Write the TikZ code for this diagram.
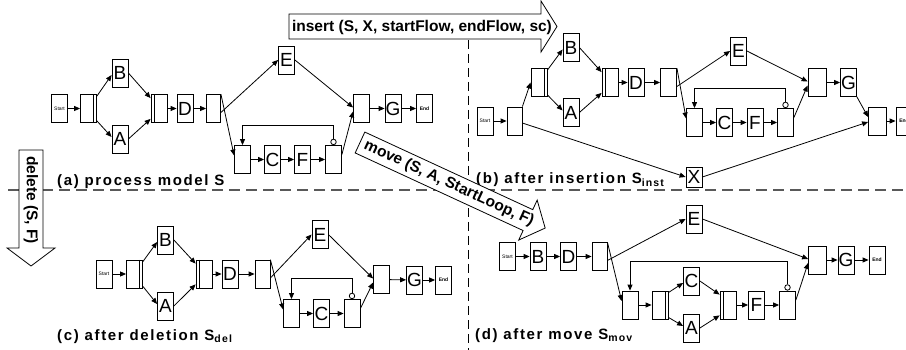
\documentclass[tikz,border=0pt]{standalone}
\usepackage{fontspec}
\setmainfont{Liberation Sans}
\newfontfamily\lblfont[LetterSpace=11]{Liberation Sans}
\usetikzlibrary{arrows.meta,calc}
\tikzset{
 box/.style={draw, line width=0.8pt, inner sep=0pt, minimum width=16pt, minimum height=28pt, fill=white},
 task/.style={box, font=\fontsize{19}{19}\selectfont},
 startnode/.style={box, font=\fontsize{5}{5}\selectfont},
 endnode/.style={box, font=\fontsize{5}{5}\selectfont\bfseries},
 andsplit/.style={box, path picture={\draw[line width=0.8pt] ([xshift=-3pt]path picture bounding box.north east) -- ([xshift=-3pt]path picture bounding box.south east);}},
 andjoin/.style={box, path picture={\draw[line width=0.8pt] ([xshift=3pt]path picture bounding box.north west) -- ([xshift=3pt]path picture bounding box.south west);}},
 gw/.style={box},
 loopc/.style={circle, draw, line width=0.8pt, minimum size=5.5pt, inner sep=0pt, fill=white, anchor=south},
 flow/.style={line width=0.8pt, -{Triangle[length=6pt,width=5pt]}},
 bigarrow/.style={draw, line width=0.8pt, fill=white},
 lbl/.style={font=\lblfont\fontsize{15}{15}\selectfont\bfseries, inner sep=0pt},
 optext/.style={font=\fontsize{15.5}{15.5}\selectfont\bfseries, inner sep=0pt},
 sepline/.style={dashed, dash pattern=on 11pt off 6pt, line width=1.6pt, draw=black!65},
 vsepline/.style={dash pattern=on 9pt off 5pt, line width=1pt, draw=black},
}
\begin{document}
\begin{tikzpicture}[x=1pt, y=-1pt]
\useasboundingbox (0,0) rectangle (906,350);
\clip (0,0) rectangle (906,350);
% separators
\draw[sepline] (8,190) -- (906,190);
\draw[vsepline] (468,40) -- (468,350);

% ---------- (a) ----------
\node[startnode] (aS) at (59.5,108.5) {Start};
\node[andsplit] (aAs) at (88.5,108.5) {};
\node[task] (aB) at (120,73) {B};
\node[task] (aA) at (120,139) {A};
\node[andjoin] (aAj) at (159,108.5) {};
\node[task] (aD) at (185,108.5) {D};
\node[gw,minimum width=14pt] (aXs) at (213.5,108.5) {};
\node[task] (aE) at (286.5,60) {E};
\node[gw] (aLs) at (242.5,159.5) {};
\node[task] (aC) at (272.5,159.5) {C};
\node[task] (aF) at (302.5,159.5) {F};
\node[gw] (aLe) at (333.5,159.5) {};
\node[loopc] (aLc) at (aLe.north) {};
\node[gw] (aXj) at (361.5,108.5) {};
\node[task] (aG) at (393,108.5) {G};
\node[endnode] (aEnd) at (424.5,108.5) {End};
\coordinate (aLy) at (0,125);
\draw[flow] (aS) -- (aAs);
\draw[flow] ([yshift=-2pt]aAs.north east) -- ([yshift=-2pt]aB.west);
\draw[flow] ([yshift=2pt]aAs.south east) -- ([yshift=2pt]aA.west);
\draw[flow] (aB.east) -- ([yshift=-4pt]aAj.north west);
\draw[flow] (aA.east) -- ([yshift=4pt]aAj.south west);
\draw[flow] (aAj) -- (aD);
\draw[flow] (aD) -- (aXs);
\draw[flow] ([yshift=-4pt]aXs.east) -- (aE.west);
\draw[flow] (aXs.north east) -- ([yshift=4pt]aLs.west);
\draw[flow] (aLs) -- (aC);
\draw[flow] (aC) -- (aF);
\draw[flow] (aF) -- (aLe);
\draw[flow] (aLc.north) |- (aLs.north |- aLy) -- (aLs.north);
\draw[flow] (aE.east) -- ([yshift=1pt]aXj.west);
\draw[flow] ([yshift=5pt]aLe.east) -- ([yshift=-3pt]aXj.west);
\draw[flow] (aXj) -- (aG);
\draw[flow] (aG) -- (aEnd);
\node[lbl, anchor=base west] (la) at (57,186) {(a) process model S};

% ---------- (b) ----------
\node[startnode] (bS) at (485,121) {Start};
\node[gw,minimum width=15pt] (bXs1) at (514.5,121) {};
\node[andsplit] (bAs) at (539,82.5) {};
\node[task] (bB) at (571,47.5) {B};
\node[task] (bA) at (571,112.5) {A};
\node[andjoin] (bAj) at (610,82.5) {};
\node[task] (bD) at (636,82.5) {D};
\node[gw] (bXs2) at (668.5,82.5) {};
\node[task] (bE) at (738.5,51) {E};
\node[gw] (bLs) at (694.5,122.5) {};
\node[task] (bC) at (724.5,122.5) {C};
\node[task] (bF) at (755,122.5) {F};
\node[gw] (bLe) at (785.5,122.5) {};
\node[loopc] (bLc) at (bLe.north) {};
\node[gw,minimum width=18pt] (bXj1) at (817,82.5) {};
\node[task] (bG) at (848.5,82.5) {G};
\node[gw,minimum width=18pt] (bXj2) at (877.5,121) {};
\node[endnode] (bEnd) at (904,121) {End};
\node[task,minimum height=20pt] (bX) at (694,177) {X};
\coordinate (bLy) at (0,88);
\draw[flow] (bS) -- (bXs1);
\draw[flow] (bXs1.north east) -- (bAs.west);
\draw[flow] ([yshift=-2pt]bXs1.east) -- (bX.west);
\draw[flow] ([yshift=-2pt]bAs.north east) -- ([yshift=-2pt]bB.west);
\draw[flow] ([yshift=2pt]bAs.south east) -- ([yshift=2pt]bA.west);
\draw[flow] (bB.east) -- ([yshift=-4pt]bAj.north west);
\draw[flow] (bA.east) -- ([yshift=4pt]bAj.south west);
\draw[flow] (bAj) -- (bD);
\draw[flow] (bD) -- (bXs2);
\draw[flow] ([yshift=-4pt]bXs2.east) -- (bE.west);
\draw[flow] (bXs2.north east) -- ([yshift=4pt]bLs.west);
\draw[flow] (bLs) -- (bC);
\draw[flow] (bC) -- (bF);
\draw[flow] (bF) -- (bLe);
\draw[flow] (bLc.north) |- (bLs.north |- bLy) -- (bLs.north);
\draw[flow] (bE.east) -- ([yshift=1pt]bXj1.west);
\draw[flow] ([yshift=5pt]bLe.east) -- ([yshift=-3pt]bXj1.west);
\draw[flow] (bXj1) -- (bG);
\draw[flow] (bG.south east) -- ([yshift=4pt]bXj2.west);
\draw[flow] (bX.east) -- ([yshift=-1pt]bXj2.west);
\draw[flow] (bXj2) -- (bEnd);
\node[lbl, anchor=base west] (lb) at (476,184) {(b) after insertion S\textsubscript{inst}};

% ---------- (c) ----------
\node[startnode] (cS) at (104,274) {Start};
\node[andsplit] (cAs) at (134.5,274) {};
\node[task] (cB) at (165.5,240) {B};
\node[task] (cA) at (165.5,306) {A};
\node[andjoin] (cAj) at (204,274) {};
\node[task] (cD) at (230,274) {D};
\node[gw,minimum width=15pt] (cXs) at (262.5,274) {};
\node[task] (cE) at (320,234.5) {E};
\node[gw] (cLs) at (291.5,313.5) {};
\node[task] (cC) at (321.5,313.5) {C};
\node[gw] (cLe) at (352,313.5) {};
\node[loopc] (cLc) at (cLe.north) {};
\node[gw] (cXj) at (381.5,279.5) {};
\node[task] (cG) at (414.5,280) {G};
\node[endnode] (cEnd) at (443.5,280) {End};
\coordinate (cLy) at (0,278);
\draw[flow] (cS) -- (cAs);
\draw[flow] ([yshift=-2pt]cAs.north east) -- ([yshift=-2pt]cB.west);
\draw[flow] ([yshift=2pt]cAs.south east) -- ([yshift=2pt]cA.west);
\draw[flow] (cB.east) -- ([yshift=-4pt]cAj.north west);
\draw[flow] (cA.east) -- ([yshift=4pt]cAj.south west);
\draw[flow] (cAj) -- (cD);
\draw[flow] (cD) -- (cXs);
\draw[flow] ([yshift=-4pt]cXs.east) -- (cE.west);
\draw[flow] (cXs.north east) -- ([yshift=4pt]cLs.west);
\draw[flow] (cLs) -- (cC);
\draw[flow] (cC) -- (cLe);
\draw[flow] (cLc.north) |- (cLs.north |- cLy) -- (cLs.north);
\draw[flow] (cE.east) -- ([yshift=1pt]cXj.west);
\draw[flow] ([yshift=5pt]cLe.east) -- ([yshift=-3pt]cXj.west);
\draw[flow] (cXj) -- (cG);
\draw[flow] (cG) -- (cEnd);
\node[lbl, anchor=base west] (lc) at (57,340) {(c) after deletion S\textsubscript{del}};

% ---------- (d) ----------
\node[startnode] (dS) at (507.5,256.5) {Start};
\node[task] (dB) at (538,256.5) {B};
\node[task] (dD) at (568.5,256.5) {D};
\node[gw,minimum width=15pt] (dXs) at (599.5,256.5) {};
\node[task] (dE) at (694,219) {E};
\node[gw] (dLs) at (630,305) {};
\node[andsplit] (dAs) at (660,305) {};
\node[task] (dC) at (691.5,281) {C};
\node[task] (dA) at (691.5,328) {A};
\node[andjoin] (dAj) at (728,305) {};
\node[task] (dF) at (756.5,305) {F};
\node[gw] (dLe) at (787.5,305) {};
\node[loopc] (dLc) at (dLe.north) {};
\node[gw,minimum width=18pt] (dXj) at (817.5,260) {};
\node[task] (dG) at (846,260) {G};
\node[endnode] (dEnd) at (877,260) {End};
\coordinate (dLy) at (0,261);
\draw[flow] (dS) -- (dB);
\draw[flow] (dB) -- (dD);
\draw[flow] (dD) -- (dXs);
\draw[flow] ([yshift=-4pt]dXs.east) -- (dE.west);
\draw[flow] (dXs.north east) -- ([yshift=4pt]dLs.west);
\draw[flow] (dLs) -- (dAs);
\draw[flow] ([yshift=-2pt]dAs.north east) -- ([yshift=-2pt]dC.west);
\draw[flow] ([yshift=2pt]dAs.south east) -- ([yshift=2pt]dA.west);
\draw[flow] (dC.east) -- ([yshift=-4pt]dAj.north west);
\draw[flow] (dA.east) -- ([yshift=4pt]dAj.south west);
\draw[flow] (dAj) -- (dF);
\draw[flow] (dF) -- (dLe);
\draw[flow] (dLc.north) |- (dLs.north |- dLy) -- (dLs.north);
\draw[flow] (dE.east) -- ([yshift=1pt]dXj.west);
\draw[flow] ([yshift=5pt]dLe.east) -- ([yshift=-3pt]dXj.west);
\draw[flow] (dXj) -- (dG);
\draw[flow] (dG) -- (dEnd);
\node[lbl, anchor=base west] (ld) at (475,339) {(d) after move S\textsubscript{mov}};

% ---------- operation arrows ----------
\draw[bigarrow] (289,14) -- (541,14) -- (541,1) -- (557,26.5) -- (541,52) -- (541,39) -- (289,39) -- cycle;
\node[optext] (ins) at (422,27) {insert (S, X, startFlow, endFlow, sc)};
\draw[bigarrow] (19,150) -- (43,150) -- (43,248) -- (55,248) -- (31,266) -- (7,248) -- (19,248) -- cycle;
\node[optext, rotate=-90] (del) at (31,200) {delete (S, F)};
\begin{scope}[shift={(360,142.5)}, rotate=-24.8]
\draw[bigarrow] (0,-11.5) -- (185,-11.5) -- (185,-22) -- (204,0) -- (185,22) -- (185,11.5) -- (0,11.5) -- cycle;
\node[optext, rotate=-24.8] (mv) at (98,0) {move (S, A, StartLoop, F)};
\end{scope}
\end{tikzpicture}
\end{document}
